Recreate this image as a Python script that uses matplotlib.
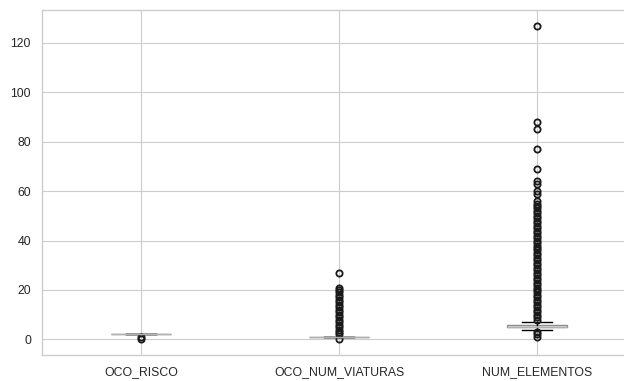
import matplotlib
matplotlib.use("Agg")
import matplotlib.pyplot as plt

# colunas do boxplot
colunas = ["OCO_RISCO", "OCO_NUM_VIATURAS", "NUM_ELEMENTOS"]

# estatisticas de cada coluna (quartis, mediana e limites dos bigodes)
medianas = [2, 1, 5]
q1 = [2, 1, 5]
q3 = [2, 1, 6]
bigode_inf = [2, 1, 4]
bigode_sup = [2, 1, 7]

# valores atipicos (outliers)
outliers_risco = [0, 1]
outliers_viaturas = [0, 2, 3, 4, 5, 6, 7, 8, 9, 10, 11, 12, 13, 14, 15, 16,
                     17, 18, 19, 20, 21, 27]
outliers_elementos = [1, 2, 3, 8, 9, 10, 11, 12, 13, 14, 15, 16, 17, 18, 19,
                      20, 21, 22, 23, 24, 25, 26, 27, 28, 29, 30, 31, 32, 33,
                      34, 35, 36, 37, 38, 39, 40, 41, 42, 43, 44, 45, 46, 47,
                      48, 49, 50, 51, 52, 53, 54, 55, 56, 59, 60, 63, 64, 69,
                      77, 85, 88, 127]
outliers = [outliers_risco, outliers_viaturas, outliers_elementos]

plt.rcParams["font.family"] = ["Liberation Sans", "DejaVu Sans"]

stats = []
for i, nome in enumerate(colunas):
    stats.append({
        "label": nome,
        "med": medianas[i],
        "q1": q1[i],
        "q3": q3[i],
        "whislo": bigode_inf[i],
        "whishi": bigode_sup[i],
        "fliers": outliers[i],
    })

fig = plt.figure(figsize=(6.24, 3.81), dpi=100)
# o eixo passa um pouco da borda direita da figura
ax = fig.add_axes([0.0673, 0.068, 0.952, 0.906])

ax.bxp(
    stats,
    widths=0.3,
    patch_artist=True,
    boxprops=dict(facecolor="white", edgecolor="#8c8c8c", linewidth=1),
    medianprops=dict(color="#b0b0b0", linewidth=1),
    whiskerprops=dict(color="black", linewidth=1),
    capprops=dict(color="black", linewidth=1),
    flierprops=dict(marker="o", markerfacecolor="none", markeredgecolor="#1a1a1a",
                    markersize=4.5, markeredgewidth=1.3),
)

ax.set_xlim(0.5, 3.5)
ax.set_ylim(-6.35, 133.35)
ax.set_yticks([0, 20, 40, 60, 80, 100, 120])

# estilo "whitegrid"
ax.grid(True, color="#cccccc", linewidth=0.8)
ax.set_axisbelow(True)
for s in ax.spines.values():
    s.set_color("#cccccc")
    s.set_linewidth(1)
ax.tick_params(length=0, labelsize=8.8, labelcolor="#262626", pad=8)

plt.savefig("out.png", dpi=100)
